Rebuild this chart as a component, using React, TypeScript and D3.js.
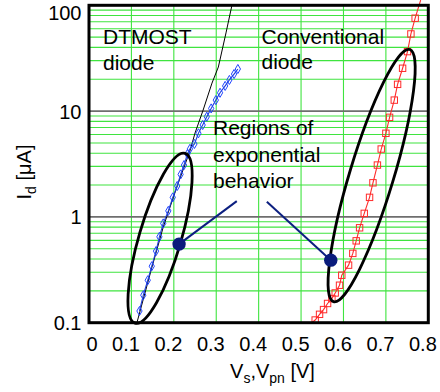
import React from "react";
import * as d3 from "d3";

// ---------- data ----------
const xTickValues = [0, 0.1, 0.2, 0.3, 0.4, 0.5, 0.6, 0.7, 0.8];
const xTickLabels = ["0", "0.1", "0.2", "0.3", "0.4", "0.5", "0.6", "0.7", "0.8"];
const yTickValues = [0.1, 1, 10, 100];
const yTickLabels = ["0.1", "1", "10", "100"];

// ideal (model) curve, black thin line
const modelV = [0.113, 0.148, 0.175, 0.208, 0.238, 0.25, 0.269, 0.29, 0.305, 0.323, 0.337];
const modelI = [0.1, 0.33, 0.8, 1.96, 4.2, 6.2, 10.2, 18.4, 26.1, 54.8, 100];

// DTMOST diode measurement (blue diamonds)
const dtmostV = [0.119, 0.128, 0.1385, 0.148, 0.158, 0.166, 0.175, 0.187, 0.1975, 0.208, 0.216, 0.224, 0.232, 0.238, 0.2486, 0.258, 0.268, 0.2777, 0.288, 0.299, 0.309, 0.321, 0.331, 0.342, 0.351];
const dtmostI = [0.129, 0.182, 0.252, 0.342, 0.475, 0.648, 0.868, 1.14, 1.53, 1.96, 2.52, 3.09, 3.93, 4.4, 4.89, 6.17, 7.39, 8.85, 10.6, 12.7, 14.9, 17.3, 19.7, 22.4, 25.0];

// Conventional diode measurement (red squares)
const convV = [0.5333, 0.5436, 0.553, 0.5625, 0.5727, 0.5805, 0.5907, 0.596, 0.612, 0.622, 0.63, 0.638, 0.649, 0.6615, 0.6695, 0.68, 0.689, 0.7, 0.7087, 0.7198, 0.7276, 0.7394, 0.751, 0.759, 0.769];
const convI = [0.106, 0.12, 0.133, 0.152, 0.169, 0.191, 0.226, 0.281, 0.35, 0.452, 0.594, 0.789, 1.08, 1.53, 2.1, 3.09, 4.38, 6.17, 8.73, 12.7, 17.9, 25.4, 36.5, 53.6, 75.5];
const convLineStart = [0.525, 0.1];
const convLineEnd = [0.782, 112];

// ellipses: [V bottom, I bottom, V top, I top]
const ellipseEnds = [
  [0.1086, 0.099, 0.2265, 3.99],
  [0.5765, 0.158, 0.7563, 38.2],
];
// highlighted points and leader-line ends
const dotV = [0.2124, 0.57];
const dotI = [0.553, 0.39];
const leaderV = [0.3485, 0.4193];
const leaderI = [1.41, 1.39];

const labelDtmost = ["DTMOST", "diode"];
const labelConv = ["Conventional", "diode"];
const labelRegions = ["Regions of", "exponential", "behavior"];

// ---------- layout ----------
const W = 440;
const H = 392;
const X0 = 89;
const X1 = 428.3;
const Y0 = 322.7;
const Y1 = 5.3;
const FONT = "'Liberation Sans', Arial, Helvetica, sans-serif";
const GREEN = "#3fe43f";

export default function App() {
  const x = d3.scaleLinear().domain([0, 0.8]).range([X0, X1]);
  const y = d3.scaleLog().domain([0.1, 100]).range([Y0, Y1]);

  const line = d3
    .line<[number, number]>()
    .x((d) => x(d[0]))
    .y((d) => y(d[1]));

  const modelPts = modelV.map((v, i) => [v, modelI[i]] as [number, number]);
  const dtPts = dtmostV.map((v, i) => [v, dtmostI[i]] as [number, number]);
  const convPts = convV.map((v, i) => [v, convI[i]] as [number, number]);
  const convLinePts = [convLineStart as [number, number], ...convPts, convLineEnd as [number, number]];

  const minorY = y.ticks().filter((t) => {
    const l = Math.log10(t);
    return Math.abs(l - Math.round(l)) > 1e-6;
  });
  const decadeY = [1, 10];

  const diamond = d3.symbol().type(d3.symbolDiamond).size(24)();

  return (
    <svg
      width={W}
      height={H}
      style={{ position: "absolute", left: 0, top: 0, background: "#fff" }}
      fontFamily={FONT}
    >
      <rect x={0} y={0} width={W} height={H} fill="#fff" />
      {/* grid */}
      <g>
        {minorY.map((t, i) => (
          <line key={"my" + i} x1={X0} x2={X1} y1={y(t)} y2={y(t)} stroke={GREEN} strokeWidth={1.1} />
        ))}
        {xTickValues.slice(1, -1).map((t, i) => (
          <line key={"gx" + i} x1={x(t)} x2={x(t)} y1={Y1} y2={Y0} stroke={GREEN} strokeWidth={1.1} />
        ))}
        {decadeY.map((t, i) => (
          <line key={"dy" + i} x1={X0} x2={X1} y1={y(t)} y2={y(t)} stroke="#6e6e6e" strokeWidth={1.6} />
        ))}
      </g>

      {/* annotation texts */}
      <g fontSize={21} fill="#000">
        {labelDtmost.map((s, i) => (
          <text key={"d" + i} x={103} y={43.5 + i * 26.5}>{s}</text>
        ))}
        {labelConv.map((s, i) => (
          <text key={"c" + i} x={261.5} y={44 + i * 25}>{s}</text>
        ))}
        {labelRegions.map((s, i) => (
          <text key={"r" + i} x={213} y={135 + i * 26.7}>{s}</text>
        ))}
      </g>

      {/* model line */}
      <path d={line(modelPts) || ""} fill="none" stroke="#000" strokeWidth={1} />

      {/* conventional diode */}
      <path d={line(convLinePts) || ""} fill="none" stroke="#ff2a2a" strokeWidth={1.1} />
      {convPts.map((p, i) => (
        <rect
          key={"cs" + i}
          x={x(p[0]) - 3.2}
          y={y(p[1]) - 3.2}
          width={6.4}
          height={6.4}
          fill="none"
          stroke="#ff2a2a"
          strokeWidth={1}
        />
      ))}

      {/* DTMOST diode */}
      <path d={line(dtPts) || ""} fill="none" stroke="#1f3fd8" strokeWidth={1.1} />
      {dtPts.map((p, i) => (
        <path
          key={"dd" + i}
          d={diamond || ""}
          transform={`translate(${x(p[0])},${y(p[1])})`}
          fill="none"
          stroke="#2246ff"
          strokeWidth={1}
        />
      ))}

      {/* ellipses */}
      {ellipseEnds.map((e, i) => {
        const xa = x(e[0]);
        const ya = y(e[1]);
        const xb = x(e[2]);
        const yb = y(e[3]);
        const cx = (xa + xb) / 2;
        const cy = (ya + yb) / 2;
        const len = Math.hypot(xb - xa, yb - ya) / 2;
        const ang = (Math.atan2(xb - xa, ya - yb) * 180) / Math.PI;
        const semiMinor = i === 0 ? 21 : 22;
        return (
          <ellipse
            key={"e" + i}
            cx={cx}
            cy={cy}
            rx={semiMinor}
            ry={len}
            transform={`rotate(${ang},${cx},${cy})`}
            fill="none"
            stroke="#000"
            strokeWidth={2.8}
          />
        );
      })}

      {/* leader lines and dots */}
      {dotV.map((v, i) => (
        <g key={"dot" + i}>
          <line
            x1={x(v)}
            y1={y(dotI[i])}
            x2={x(leaderV[i])}
            y2={y(leaderI[i])}
            stroke="#0c1f80"
            strokeWidth={2}
          />
          <circle cx={x(v)} cy={y(dotI[i])} r={6.7} fill="#0a1c7c" />
        </g>
      ))}

      {/* frame */}
      <rect x={X0} y={Y1} width={X1 - X0} height={Y0 - Y1} fill="none" stroke="#000" strokeWidth={3} />

      {/* axis tick labels */}
      <g fontSize={20} fill="#000">
        {xTickValues.map((t, i) => (
          <text key={"xt" + i} x={x(t) + 8.5} y={351} textAnchor="end">
            {xTickLabels[i]}
          </text>
        ))}
        {yTickValues.map((t, i) => (
          <text key={"yt" + i} x={81.5} y={Math.max(y(t) + 7.5, 20)} textAnchor="end">
            {yTickLabels[i]}
          </text>
        ))}
      </g>

      {/* axis titles */}
      <text x={272.5} y={378} fontSize={20} textAnchor="middle">
        V<tspan fontSize={14} dy={5}>s</tspan>
        <tspan dy={-5}>,V</tspan>
        <tspan fontSize={14} dy={5}>pn</tspan>
        <tspan dy={-5}> [V]</tspan>
      </text>
      <text transform="translate(31,172) rotate(-90)" fontSize={20} textAnchor="middle">
        I<tspan fontSize={14} dy={5}>d</tspan>
        <tspan dy={-5}> [μA]</tspan>
      </text>
    </svg>
  );
}
